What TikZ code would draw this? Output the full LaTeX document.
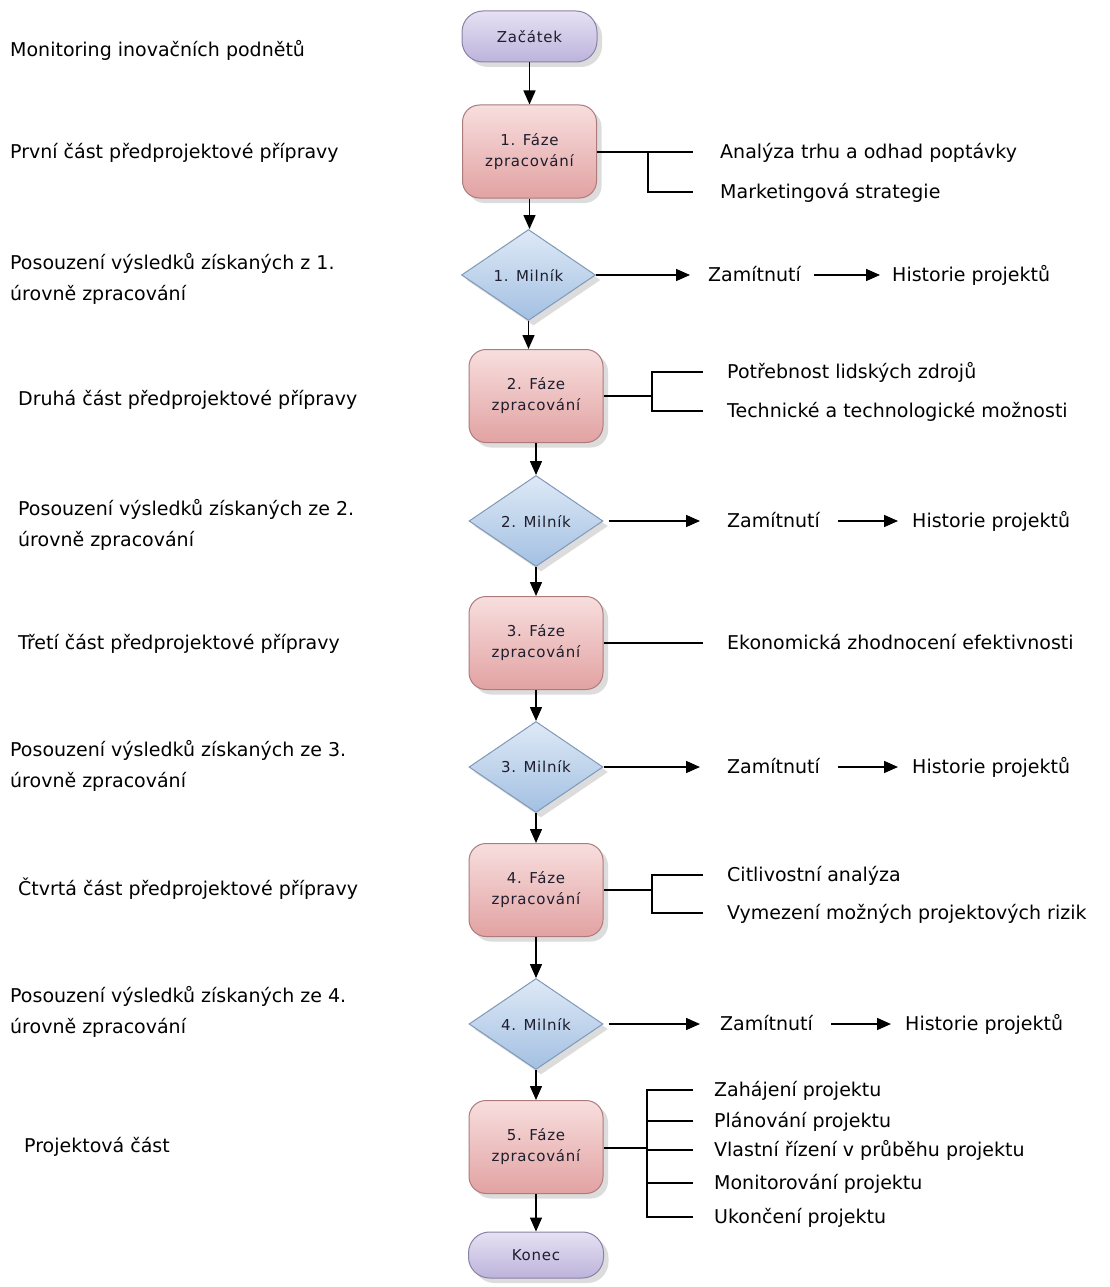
\documentclass[tikz,border=0pt]{standalone}
\usepackage{fontspec}
\setmainfont{DejaVu Sans}
\newfontfamily\boxf[LetterSpace=5]{DejaVu Sans}
\usetikzlibrary{arrows.meta,shapes.geometric,shadows}
\definecolor{pillT}{HTML}{E6E1F3}
\definecolor{pillBt}{HTML}{BDB3DB}
\definecolor{pillD}{HTML}{8A82A6}
\definecolor{phT}{HTML}{F8DEDE}
\definecolor{phBt}{HTML}{E2A2A2}
\definecolor{phD}{HTML}{AD7B7B}
\definecolor{diT}{HTML}{DEE9F6}
\definecolor{diBt}{HTML}{A3C0E2}
\definecolor{diD}{HTML}{7E99B8}
\definecolor{boxtxt}{HTML}{1E1E2E}
\begin{document}
\begin{tikzpicture}[x=1pt,y=-1pt,
  shad/.style={drop shadow={shadow xshift=5pt,shadow yshift=-5pt,fill=black!30,opacity=.45}},
  boxfont/.style={font=\boxf\fontsize{15}{21}\selectfont,text=boxtxt},
  pill/.style={shad,draw=pillD,line width=1pt,top color=pillT,bottom color=pillBt,
     rounded corners=21pt,minimum width=135pt,minimum height=51pt,boxfont},
  phase/.style={shad,draw=phD,line width=1pt,top color=phT,bottom color=phBt,
     rounded corners=17pt,minimum width=134pt,minimum height=93pt,align=center,boxfont},
  mile/.style={shad,diamond,draw=diD,line width=1pt,top color=diT,bottom color=diBt,
     minimum width=134pt,minimum height=91pt,inner sep=0pt,boxfont},
  txt/.style={inner sep=0pt,anchor=west,font=\fontsize{19}{31}\selectfont,text height=14pt,text depth=1pt},
  txt2/.style={inner sep=0pt,anchor=west,align=left,font=\fontsize{19}{31}\selectfont},
  arr/.style={line width=1.5pt,-{Triangle[length=14pt,width=12pt]}},
  ln/.style={line width=1.4pt}
]
\useasboundingbox[fill=white] (0,0) rectangle (1109,1287);

% central column
\node[pill]  (start) at (529.5,36.5) {Začátek};
\node[phase] (f1) at (529.5,151.5) {1. Fáze\\zpracování};
\node[mile]  (d1) at (528.5,275) {1. Milník};
\node[phase] (f2) at (536,396) {2. Fáze\\zpracování};
\node[mile]  (d2) at (536,521) {2. Milník};
\node[phase] (f3) at (536,643) {3. Fáze\\zpracování};
\node[mile]  (d3) at (536,767) {3. Milník};
\node[phase] (f4) at (536,890) {4. Fáze\\zpracování};
\node[mile]  (d4) at (536,1024) {4. Milník};
\node[phase] (f5) at (536,1147) {5. Fáze\\zpracování};
\node[pill,minimum height=46pt]  (konec) at (536,1255) {Konec};

\draw[arr] (start.south) -- (start.south |- f1.north);
\draw[arr] (f1.south) -- (f1.south |- d1.north);
\draw[arr] (d1.south) -- (d1.south |- f2.north);
\draw[arr] (f2.south) -- (d2.north);
\draw[arr] (d2.south) -- (f3.north);
\draw[arr] (f3.south) -- (d3.north);
\draw[arr] (d3.south) -- (f4.north);
\draw[arr] (f4.south) -- (d4.north);
\draw[arr] (d4.south) -- (f5.north);
\draw[arr] (f5.south) -- (konec.north);

% left descriptions
\node[txt]  (l0) at (10,50) {Monitoring inovačních podnětů};
\node[txt]  (l1) at (10,152) {První část předprojektové přípravy};
\node[txt2] (l2) at (10,279) {Posouzení výsledků získaných z 1.\\úrovně zpracování};
\node[txt]  (l3) at (18,399) {Druhá část předprojektové přípravy};
\node[txt2] (l4) at (18,525) {Posouzení výsledků získaných ze 2.\\úrovně zpracování};
\node[txt]  (l5) at (18,643) {Třetí část předprojektové přípravy};
\node[txt2] (l6) at (10,766) {Posouzení výsledků získaných ze 3.\\úrovně zpracování};
\node[txt]  (l7) at (18,889) {Čtvrtá část předprojektové přípravy};
\node[txt2] (l8) at (10,1012) {Posouzení výsledků získaných ze 4.\\úrovně zpracování};
\node[txt]  (l9) at (24,1146) {Projektová část};

% row 1 activities
\node[txt] (a11) at (720,152) {Analýza trhu a odhad poptávky};
\node[txt] (a12) at (720,192) {Marketingová strategie};
\coordinate (b1) at (648,152);
\draw[ln] (f1.east |- b1) -- (b1) -- ([xshift=-27pt]a11.west);
\draw[ln] (b1) |- ([xshift=-27pt]a12.west);

% row 2 activities
\node[txt] (a21) at (727,372) {Potřebnost lidských zdrojů};
\node[txt] (a22) at (727,411) {Technické a technologické možnosti};
\coordinate (b2) at (652,396);
\draw[ln] (f2.east) -- (b2);
\draw[ln] (b2) |- ([xshift=-24pt]a21.west);
\draw[ln] (b2) |- ([xshift=-24pt]a22.west);

% row 3 activities
\node[txt] (a31) at (727,643) {Ekonomická zhodnocení efektivnosti};
\draw[ln] (f3.east) -- ([xshift=-24pt]a31.west);

% row 4 activities
\node[txt] (a41) at (727,875) {Citlivostní analýza};
\node[txt] (a42) at (727,913) {Vymezení možných projektových rizik};
\coordinate (b4) at (652,890);
\draw[ln] (f4.east) -- (b4);
\draw[ln] (b4) |- ([xshift=-24pt]a41.west);
\draw[ln] (b4) |- ([xshift=-24pt]a42.west);

% row 5 activities
\node[txt] (a51) at (714,1090) {Zahájení projektu};
\node[txt] (a52) at (714,1121) {Plánování projektu};
\node[txt] (a53) at (714,1150) {Vlastní řízení v průběhu projektu};
\node[txt] (a54) at (714,1183) {Monitorování projektu};
\node[txt] (a55) at (714,1217) {Ukončení projektu};
\coordinate (b5) at (647,1148);
\draw[ln] (f5.east |- b5) -- (b5);
\foreach \n in {a51,a52,a53,a54,a55}
  \draw[ln] (b5) |- ([xshift=-21pt]\n.west);

% rejections
\node[txt] (z1) at (708,275) {Zamítnutí};
\node[txt] (h1) at (892,275) {Historie projektů};
\draw[arr,shorten >=18pt] (d1.east) -- (z1.west);
\draw[arr,shorten <=13pt,shorten >=12pt] (z1.east) -- (h1.west);

\node[txt] (z2) at (727,521) {Zamítnutí};
\node[txt] (h2) at (912,521) {Historie projektů};
\draw[arr,shorten <=5pt,shorten >=27pt] (d2.east) -- (z2.west);
\draw[arr,shorten <=18pt,shorten >=14pt] (z2.east) -- (h2.west);

\node[txt] (z3) at (727,767) {Zamítnutí};
\node[txt] (h3) at (912,767) {Historie projektů};
\draw[arr,shorten >=27pt] (d3.east) -- (z3.west);
\draw[arr,shorten <=18pt,shorten >=14pt] (z3.east) -- (h3.west);

\node[txt] (z4) at (720,1024) {Zamítnutí};
\node[txt] (h4) at (905,1024) {Historie projektů};
\draw[arr,shorten <=5pt,shorten >=20pt] (d4.east) -- (z4.west);
\draw[arr,shorten <=18pt,shorten >=14pt] (z4.east) -- (h4.west);
\end{tikzpicture}
\end{document}
